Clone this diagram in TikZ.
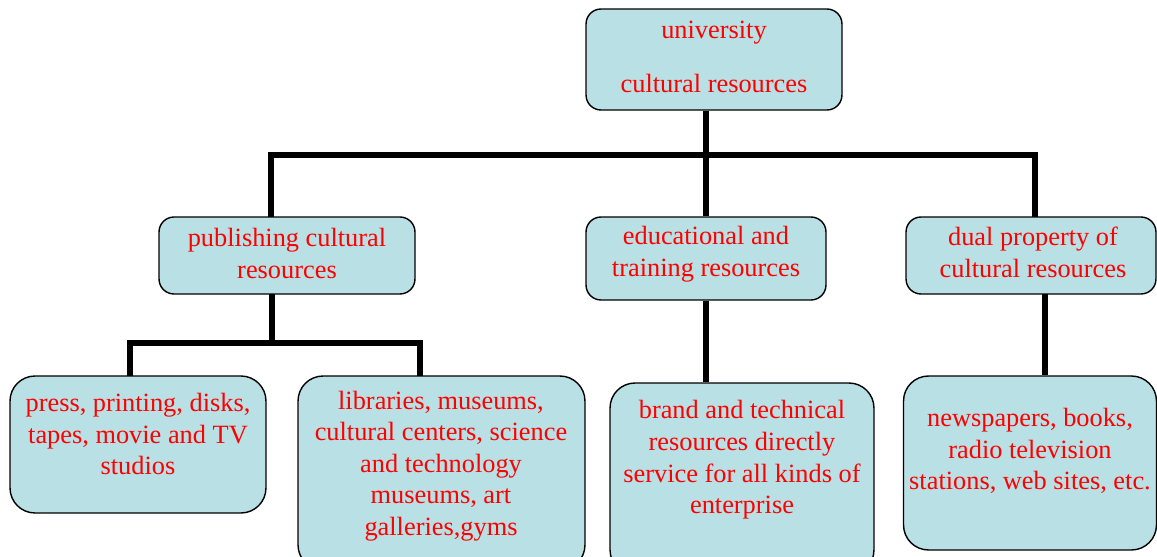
\documentclass[tikz,border=0pt]{standalone}
\usepackage{fontspec}
\setmainfont{Liberation Serif}
\usetikzlibrary{positioning}
\definecolor{boxfill}{RGB}{185,224,228}
\definecolor{boxred}{RGB}{255,0,0}
\tikzset{
	resbox/.style={draw=black, line width=0.8pt, fill=boxfill, rounded corners=#1, inner sep=0pt},
	resbox/.default=0.3cm,
	restext/.style={text=boxred, align=center, inner sep=0pt, font=\fontsize{15}{18}\selectfont},
	link/.style={line width=3.4pt, line join=miter}
}

\begin{document}
\begin{tikzpicture}[x=0.02cm, y=-0.02cm]
		%%%%% START %%%%%
		\useasboundingbox (0, 0) rectangle (1157, 557);
		\clip (0, 0) rectangle (1157, 557);
		
		% top level
		\node[resbox, minimum width=5.12cm, minimum height=2.02cm] (univ) at (714, 59.5) {};
		\node[restext] (univ-t) at (714, 57) {university\\[0.45cm]cultural resources};
		
		% second level
		\node[resbox, minimum width=5.12cm, minimum height=1.54cm] (pub) at (287, 255.5) {};
		\node[restext] (pub-t) at (287, 253.5) {publishing cultural\\resources};
		\node[resbox, minimum width=4.8cm, minimum height=1.66cm] (edu) at (706, 258.5) {};
		\node[restext] (edu-t) at (706, 254) {educational and\\training resources};
		\node[resbox, minimum width=5.0cm, minimum height=1.54cm] (dual) at (1031, 255.5) {};
		\node[restext] (dual-t) at (1033, 252.5) {dual property of\\cultural resources};
		
		% third level
		\node[resbox=0.5cm, minimum width=5.12cm, minimum height=2.74cm] (press) at (138, 444.5) {};
		\node[restext] (press-t) at (138, 434) {press, printing, disks,\\tapes, movie and TV\\studios};
		\node[resbox=0.5cm, minimum width=5.74cm, minimum height=3.88cm] (lib) at (441.5, 473) {};
		\node[restext] (lib-t) at (441, 466) {libraries, museums,\\cultural centers, science\\and technology\\museums, art\\galleries,gyms};
		\node[resbox=0.5cm, minimum width=5.28cm, minimum height=3.84cm] (brand) at (742, 479) {};
		\node[restext] (brand-t) at (742, 460) {brand and technical\\resources directly\\service for all kinds of\\enterprise};
		\node[resbox=0.5cm, minimum width=5.06cm, minimum height=3.48cm] (news) at (1030, 463) {};
		\node[restext] (news-t) at (1030, 451) {newspapers, books,\\radio television\\stations, web sites, etc.};
		
		% joints of the tree
		\coordinate (hub) at (706, 155);
		\coordinate (pub-in) at (271, 217);
		\coordinate (dual-in) at (1035, 217);
		\coordinate (pub-out) at (272, 294);
		\coordinate (split) at (272, 343);
		\coordinate (press-in) at (130, 376);
		\coordinate (lib-in) at (420, 376);
		\coordinate (dual-out) at (1045, 294);
		
		\draw[link] (univ.south -| edu.north) -- (edu.north);
		\draw[link] (pub-in) |- (hub) -| (dual-in);
		\draw[link] (pub-out) -- (split);
		\draw[link] (press-in) |- (split) -| (lib-in);
		\draw[link] (edu.south) -- (edu.south |- brand.north);
		\draw[link] (dual-out) -- (dual-out |- news.north);
		
		%%%%% END %%%%%
	\end{tikzpicture}
\end{document}
